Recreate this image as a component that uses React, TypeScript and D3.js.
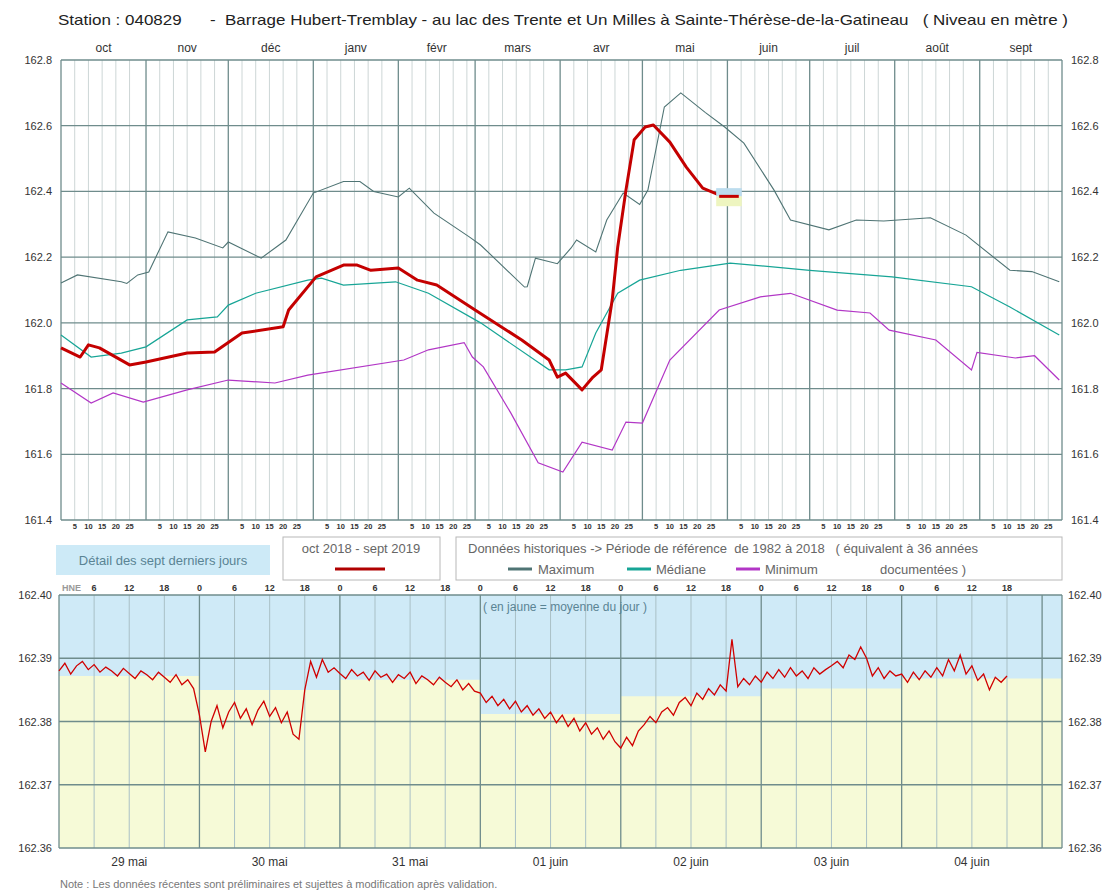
import * as d3 from 'd3';

// --- annual chart data (Oct 2018 - Sept 2019), [date, level m] ---
const maximum: [string, number][] = [
  ['2018-10-01', 162.121], ['2018-10-07', 162.146], ['2018-10-23', 162.125], ['2018-10-25', 162.12],
  ['2018-10-29', 162.146], ['2018-11-02', 162.155], ['2018-11-09', 162.277], ['2018-11-19', 162.258],
  ['2018-11-29', 162.228], ['2018-12-01', 162.246], ['2018-12-13', 162.197], ['2018-12-22', 162.252],
  ['2019-01-01', 162.395], ['2019-01-12', 162.43], ['2019-01-18', 162.43], ['2019-01-23', 162.40],
  ['2019-02-01', 162.383], ['2019-02-05', 162.41], ['2019-02-14', 162.334], ['2019-02-27', 162.261],
  ['2019-03-03', 162.237], ['2019-03-19', 162.109], ['2019-03-20', 162.11], ['2019-03-23', 162.197],
  ['2019-03-31', 162.18], ['2019-04-05', 162.228], ['2019-04-07', 162.252], ['2019-04-14', 162.216],
  ['2019-04-18', 162.313], ['2019-04-24', 162.395], ['2019-04-30', 162.36], ['2019-05-03', 162.404],
  ['2019-05-09', 162.657], ['2019-05-15', 162.70], ['2019-05-24', 162.64], ['2019-05-31', 162.596],
  ['2019-06-07', 162.547], ['2019-06-18', 162.404], ['2019-06-24', 162.313], ['2019-07-08', 162.283],
  ['2019-07-18', 162.313], ['2019-07-28', 162.31], ['2019-08-14', 162.32], ['2019-08-27', 162.267],
  ['2019-09-12', 162.16], ['2019-09-20', 162.156], ['2019-09-30', 162.125],
];

const mediane: [string, number][] = [
  ['2018-10-01', 161.963], ['2018-10-12', 161.896], ['2018-10-23', 161.908], ['2018-11-01', 161.927],
  ['2018-11-16', 162.009], ['2018-11-27', 162.018], ['2018-12-01', 162.054], ['2018-12-11', 162.09],
  ['2018-12-30', 162.13], ['2019-01-04', 162.136], ['2019-01-12', 162.115], ['2019-01-31', 162.125],
  ['2019-02-12', 162.09], ['2019-03-03', 162.0], ['2019-03-28', 161.857], ['2019-04-03', 161.857],
  ['2019-04-09', 161.866], ['2019-04-14', 161.969], ['2019-04-22', 162.09], ['2019-04-30', 162.13],
  ['2019-05-15', 162.16], ['2019-06-02', 162.182], ['2019-07-01', 162.16], ['2019-07-31', 162.14],
  ['2019-08-29', 162.11], ['2019-09-12', 162.048], ['2019-09-30', 161.963],
];

const minimum: [string, number][] = [
  ['2018-10-01', 161.817], ['2018-10-12', 161.756], ['2018-10-20', 161.787], ['2018-10-31', 161.759],
  ['2018-11-16', 161.796], ['2018-12-01', 161.826], ['2018-12-18', 161.817], ['2018-12-30', 161.841],
  ['2019-02-03', 161.887], ['2019-02-12', 161.918], ['2019-02-25', 161.94], ['2019-02-28', 161.896],
  ['2019-03-04', 161.866], ['2019-03-14', 161.726], ['2019-03-24', 161.574], ['2019-04-02', 161.546],
  ['2019-04-09', 161.637], ['2019-04-20', 161.613], ['2019-04-25', 161.698], ['2019-05-01', 161.695],
  ['2019-05-11', 161.887], ['2019-05-29', 162.039], ['2019-06-13', 162.079], ['2019-06-24', 162.09],
  ['2019-07-11', 162.039], ['2019-07-23', 162.03], ['2019-07-30', 161.978], ['2019-08-16', 161.948],
  ['2019-08-29', 161.857], ['2019-08-31', 161.91], ['2019-09-14', 161.893], ['2019-09-21', 161.90],
  ['2019-09-30', 161.826],
];

const courant: [string, number][] = [
  ['2018-10-01', 161.924], ['2018-10-08', 161.896], ['2018-10-11', 161.933], ['2018-10-15', 161.924],
  ['2018-10-26', 161.872], ['2018-11-01', 161.881], ['2018-11-16', 161.908], ['2018-11-26', 161.911],
  ['2018-12-06', 161.969], ['2018-12-21', 161.988], ['2018-12-23', 162.039], ['2019-01-02', 162.14],
  ['2019-01-12', 162.176], ['2019-01-17', 162.176], ['2019-01-22', 162.16], ['2019-02-01', 162.167],
  ['2019-02-08', 162.13], ['2019-02-15', 162.115], ['2019-03-01', 162.039], ['2019-03-18', 161.948],
  ['2019-03-28', 161.887], ['2019-03-31', 161.835], ['2019-04-03', 161.847], ['2019-04-09', 161.796],
  ['2019-04-13', 161.835], ['2019-04-16', 161.857], ['2019-04-20', 162.07], ['2019-04-22', 162.231],
  ['2019-04-25', 162.404], ['2019-04-28', 162.557], ['2019-05-02', 162.596], ['2019-05-05', 162.602],
  ['2019-05-11', 162.55], ['2019-05-17', 162.474], ['2019-05-23', 162.41], ['2019-05-30', 162.386],
  ['2019-06-04', 162.386],
];

const monthLabels = ['oct', 'nov', 'déc', 'janv', 'févr', 'mars', 'avr', 'mai', 'juin', 'juil', 'août', 'sept'];
const topTicks = [161.4, 161.6, 161.8, 162.0, 162.2, 162.4, 162.6, 162.8];
const dayTicks = [5, 10, 15, 20, 25];

// --- seven-day detail, hourly levels from 29 mai 0h ---
const dayLabels = ['29 mai', '30 mai', '31 mai', '01 juin', '02 juin', '03 juin', '04 juin'];
const dailyMean = [162.3872, 162.3850, 162.3866, 162.3812, 162.3840, 162.3852, 162.3868, 162.3868];
const bottomTicks = [162.36, 162.37, 162.38, 162.39, 162.40];
const hourly: number[] = [
  // 29 mai
  162.3880, 162.3892, 162.3875, 162.3888, 162.3895, 162.3882, 162.3890, 162.3878, 162.3886, 162.3880, 162.3872, 162.3884,
  162.3876, 162.3868, 162.3880, 162.3874, 162.3866, 162.3878, 162.3870, 162.3862, 162.3874, 162.3858, 162.3866, 162.3852,
  // 30 mai
  162.3810, 162.3752, 162.3800, 162.3825, 162.3790, 162.3815, 162.3830, 162.3805, 162.3820, 162.3795, 162.3818, 162.3832,
  162.3808, 162.3822, 162.3798, 162.3815, 162.3780, 162.3772, 162.3850, 162.3895, 162.3870, 162.3898, 162.3878, 162.3885,
  // 31 mai
  162.3876, 162.3868, 162.3882, 162.3872, 162.3878, 162.3865, 162.3880, 162.3870, 162.3875, 162.3862, 162.3874, 162.3868,
  162.3878, 162.3860, 162.3872, 162.3866, 162.3858, 162.3870, 162.3862, 162.3855, 162.3866, 162.3850, 162.3860, 162.3848,
  // 01 juin
  162.3845, 162.3830, 162.3840, 162.3825, 162.3835, 162.3820, 162.3832, 162.3815, 162.3825, 162.3810, 162.3820, 162.3805,
  162.3815, 162.3798, 162.3810, 162.3792, 162.3805, 162.3785, 162.3798, 162.3780, 162.3790, 162.3772, 162.3785, 162.3768,
  // 02 juin
  162.3758, 162.3775, 162.3762, 162.3785, 162.3795, 162.3808, 162.3798, 162.3815, 162.3822, 162.3810, 162.3830, 162.3838,
  162.3825, 162.3845, 162.3835, 162.3852, 162.3842, 162.3858, 162.3848, 162.3930, 162.3855, 162.3868, 162.3858, 162.3872,
  // 03 juin
  162.3862, 162.3878, 162.3868, 162.3882, 162.3870, 162.3885, 162.3872, 162.3880, 162.3868, 162.3885, 162.3875, 162.3882,
  162.3888, 162.3895, 162.3885, 162.3905, 162.3898, 162.3918, 162.3900, 162.3872, 162.3885, 162.3868, 162.3880, 162.3872,
  // 04 juin
  162.3875, 162.3862, 162.3878, 162.3866, 162.3880, 162.3870, 162.3885, 162.3872, 162.3898, 162.3880, 162.3905, 162.3875,
  162.3888, 162.3865, 162.3875, 162.3850, 162.3870, 162.3862, 162.3872,
];

const W = 1114;
const H = 894;
const font = '"Liberation Sans", Arial, sans-serif';
const gridMajor = '#6f8c8c';
const gridMinor = '#cdd6d6';

const parse = d3.timeParse('%Y-%m-%d');

export default function App() {
  const x = d3.scaleTime().domain([parse('2018-10-01')!, parse('2019-10-01')!]).range([61, 1062]);
  const y = d3.scaleLinear().domain([161.4, 162.8]).range([520, 60]);

  const months = d3.timeMonth.range(parse('2018-10-01')!, parse('2019-10-01')!);
  const line = d3.line<[string, number]>().x(d => x(parse(d[0])!)).y(d => y(d[1]));

  const t0 = new Date(2019, 4, 29);
  const t1 = new Date(t0.getTime() + (7 * 24 + 3.4) * 3600e3);
  const xb = d3.scaleTime().domain([t0, t1]).range([59, 1062]);
  const yb = d3.scaleLinear().domain([162.36, 162.40]).range([848, 595]);
  const hourDate = (h: number) => new Date(t0.getTime() + h * 3600e3);
  const sixHours = d3.range(0, 7 * 24 + 3, 6);
  const meanArea = d3.area<number>()
    .x((_, i) => (i === dailyMean.length - 1 ? xb(t1) : xb(hourDate(i * 24))))
    .y0(848)
    .y1(d => yb(d))
    .curve(d3.curveStepAfter);
  const hourLine = d3.line<number>().x((_, i) => xb(hourDate(i))).y(d => yb(d));

  const legendLine = (x1: number, yy: number, color: string) => (
    <line x1={x1} x2={x1 + 24} y1={yy} y2={yy} stroke={color} strokeWidth={3} />
  );
  const pre = { whiteSpace: 'pre' as const };

  return (
    <div style={{ position: 'absolute', left: 0, top: 0 }}>
      <svg width={W} height={H} style={{ display: 'block', background: '#fff' }} fontFamily={font}>
        <text x={58} y={25} fontSize={15} fill="#222" style={pre} textLength={1010} lengthAdjust="spacingAndGlyphs">
          {'Station : 040829      -  Barrage Hubert-Tremblay - au lac des Trente et Un Milles à Sainte-Thérèse-de-la-Gatineau   ( Niveau en mètre )'}
        </text>

        {/* top chart grid */}
        {months.map((m, i) =>
          dayTicks.map(d => {
            const xx = x(new Date(m.getFullYear(), m.getMonth(), d + 1));
            return (
              <g key={`${i}-${d}`}>
                <line x1={xx} x2={xx} y1={60} y2={520} stroke={gridMinor} />
                <text x={xx} y={529} fontSize={7.5} fontWeight="bold" textAnchor="middle" fill="#333">{d}</text>
              </g>
            );
          })
        )}
        {topTicks.map(t => (
          <g key={t}>
            <line x1={61} x2={1062} y1={y(t)} y2={y(t)} stroke={gridMajor} strokeWidth={1.3} />
            <text x={52} y={y(t) + 4} fontSize={11} textAnchor="end" fill="#333">{t.toFixed(1)}</text>
            <text x={1071} y={y(t) + 4} fontSize={11} fill="#333">{t.toFixed(1)}</text>
          </g>
        ))}
        {months.map((m, i) => {
          const next = d3.timeMonth.offset(m, 1);
          return (
            <g key={i}>
              <line x1={x(m)} x2={x(m)} y1={60} y2={520} stroke={gridMajor} strokeWidth={1.3} />
              <text x={(x(m) + x(next)) / 2} y={52} fontSize={12} textAnchor="middle" fill="#333">{monthLabels[i]}</text>
            </g>
          );
        })}
        <line x1={1062} x2={1062} y1={60} y2={520} stroke={gridMajor} strokeWidth={1.3} />

        <path d={line(maximum)!} fill="none" stroke="#4f7474" strokeWidth={1.1} />
        <path d={line(mediane)!} fill="none" stroke="#17a596" strokeWidth={1.2} />
        <path d={line(minimum)!} fill="none" stroke="#b236c6" strokeWidth={1.2} />
        <path d={line(courant)!} fill="none" stroke="#c40000" strokeWidth={3} strokeLinejoin="round" />

        {/* 7-day window marker */}
        <rect x={x(t0) - 3} y={y(162.41)} width={x(t1) - x(t0) + 6} height={y(162.385) - y(162.41)} fill="#bcdcee" />
        <rect x={x(t0) - 3} y={y(162.385)} width={x(t1) - x(t0) + 6} height={y(162.355) - y(162.385)} fill="#eef5c0" />
        <line x1={x(t0)} x2={x(t1)} y1={y(162.385)} y2={y(162.385)} stroke="#c40000" strokeWidth={3} />

        {/* legends */}
        <rect x={56} y={545} width={214} height={30} fill="#cdeaf7" />
        <text x={163} y={565} fontSize={13} textAnchor="middle" fill="#5a8494">Détail des sept derniers jours</text>
        <rect x={283} y={537} width={157} height={43} fill="#fff" stroke="#b8b8b8" />
        <text x={361} y={553} fontSize={13} textAnchor="middle" fill="#666">oct 2018 - sept 2019</text>
        <line x1={335} x2={385} y1={569} y2={569} stroke="#b00000" strokeWidth={3} />
        <rect x={456} y={537} width={606} height={43} fill="#fff" stroke="#b8b8b8" />
        <text x={468} y={553} fontSize={13} fill="#666" style={pre}>
          {'Données historiques -> Période de référence  de 1982 à 2018   ( équivalent à 36 années'}
        </text>
        {legendLine(508, 569, '#4f7474')}
        <text x={538} y={574} fontSize={13} fill="#666">Maximum</text>
        {legendLine(627, 569, '#17a596')}
        <text x={656} y={574} fontSize={13} fill="#666">Médiane</text>
        {legendLine(736, 569, '#b236c6')}
        <text x={765} y={574} fontSize={13} fill="#666">Minimum</text>
        <text x={880} y={574} fontSize={13} fill="#666">documentées )</text>

        {/* bottom chart */}
        <rect x={59} y={595} width={1003} height={253} fill="#cfeaf7" />
        <path d={meanArea(dailyMean)!} fill="#f6fad7" />
        {sixHours.map(h => {
          const xx = xb(hourDate(h));
          return (
            <g key={h}>
              <line x1={xx} x2={xx} y1={595} y2={848} stroke={h % 24 === 0 ? gridMajor : '#a9c0c6'} strokeWidth={h % 24 === 0 ? 1.3 : 1} />
              {h < 7 * 24 && (
                <text x={h === 0 ? xx + 3 : xx} y={591} fontSize={9} fontWeight="bold" textAnchor={h === 0 ? 'start' : 'middle'} fill={h === 0 ? '#999' : '#333'}>
                  {h === 0 ? 'HNE' : String(h % 24)}
                </text>
              )}
            </g>
          );
        })}
        {bottomTicks.map(t => (
          <g key={t}>
            <line x1={59} x2={1062} y1={yb(t)} y2={yb(t)} stroke={gridMajor} strokeWidth={1.3} />
            <text x={52} y={yb(t) + 4} fontSize={11} textAnchor="end" fill="#333">{t.toFixed(2)}</text>
            <text x={1068} y={yb(t) + 4} fontSize={11} fill="#333">{t.toFixed(2)}</text>
          </g>
        ))}
        <line x1={1062} x2={1062} y1={595} y2={848} stroke={gridMajor} strokeWidth={1.3} />
        <text x={565} y={611} fontSize={12} textAnchor="middle" fill="#5a8494">( en jaune = moyenne du jour )</text>
        <path d={hourLine(hourly)!} fill="none" stroke="#d00000" strokeWidth={1.3} />
        {dayLabels.map((d, i) => (
          <text key={d} x={xb(hourDate(i * 24 + 12))} y={866} fontSize={12} textAnchor="middle" fill="#333">{d}</text>
        ))}
        <text x={60} y={888} fontSize={11} fill="#777">
          Note : Les données récentes sont préliminaires et sujettes à modification après validation.
        </text>
      </svg>
    </div>
  );
}
